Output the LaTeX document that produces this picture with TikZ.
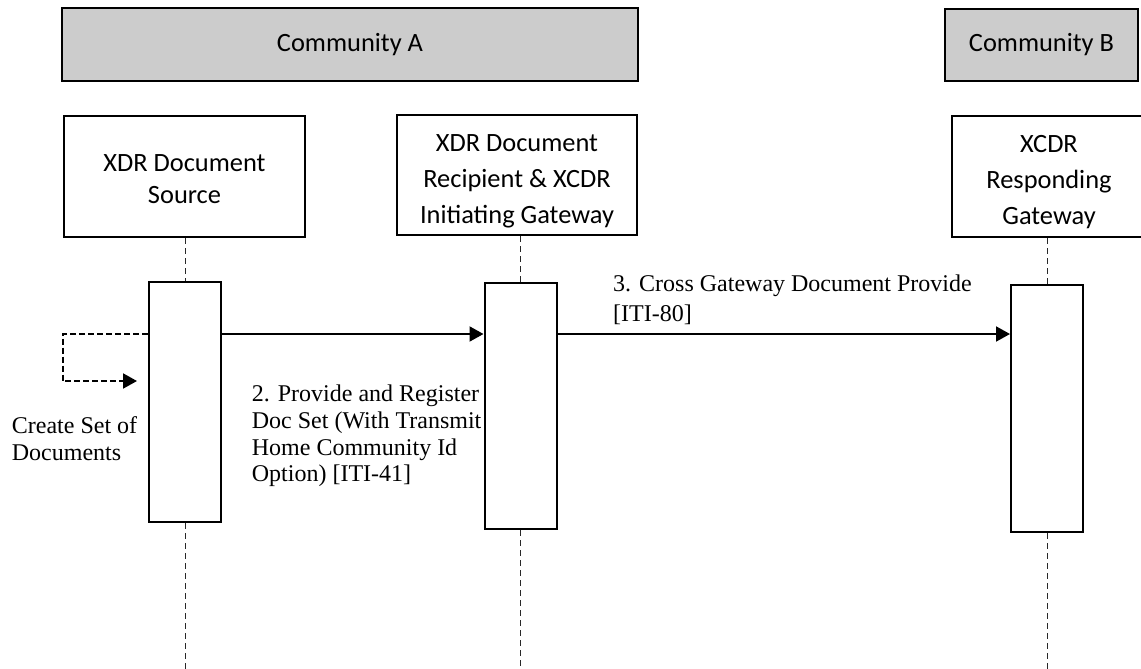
\documentclass[tikz,border=0pt]{standalone}
\usepackage{fontspec}
\setmainfont{Liberation Serif}
\newfontfamily\calibrifont{Carlito}
\usetikzlibrary{arrows.meta}
\definecolor{commfill}{RGB}{204,204,204}
\definecolor{lifegray}{RGB}{40,40,40}
\begin{document}
\begin{tikzpicture}[x=1pt,y=-1pt,
 comm/.style={draw=black,line width=2pt,fill=commfill,inner sep=0pt,font=\calibrifont\fontsize{26.4}{32}\selectfont},
 actor/.style={draw=black,line width=2pt,fill=white,inner sep=0pt},
 actortext/.style={inner sep=0pt,align=center,font=\calibrifont\fontsize{26.4}{#1}\selectfont},
 act/.style={draw=black,line width=2pt,fill=white,inner sep=0pt,minimum width=72pt},
 life/.style={draw=lifegray,line width=1pt,dash pattern=on 6pt off 4pt},
 msg/.style={draw=black,line width=2pt,-{Triangle[length=14pt,width=15pt]}},
 selfmsg/.style={msg,dash pattern=on 6pt off 3pt},
 lbl/.style={inner sep=0pt,anchor=base west,align=left}]
\useasboundingbox (0,0) rectangle (1141,669);
\clip (0,0) rectangle (1141,669);
\fill[white] (0,0) rectangle (1141,669);

\coordinate (m) at (0,334);
\coordinate (loopbl) at (62.7,381);
\coordinate (looptip) at (137,381);
\coordinate (bot) at (0,669);

% community headers
\node[comm,minimum width=576pt,minimum height=73pt] (commA) at (350,44.5) {Community A};
\node[comm,minimum width=193pt,minimum height=72pt] (commB) at (1041.5,45) {Community B};

% participants
\node[actor,minimum width=241pt,minimum height=121pt] (src) at (184.5,176.5) {};
\node[actortext=32] (srct) at ([yshift=-2.5pt]src.center) {XDR Document\\Source};
\node[actor,minimum width=240pt,minimum height=120pt] (rec) at (517,175) {};
\node[actortext=36] (rect) at ([yshift=-6pt]rec.center) {XDR Document\\Recipient \& XCDR\\Initiating Gateway};
\node[actor,minimum width=194pt,minimum height=121pt] (resp) at (1049,176.5) {};
\node[actortext=36] (respt) at ([yshift=-6pt]resp.center) {XCDR\\Responding\\Gateway};

% labels (drawn before the activation boxes, which cover any overflow)
\node[lbl,font=\fontsize{24}{27}\selectfont] (l1) at (11.7,460) {Create Set of\\Documents};
\node[lbl,font=\fontsize{24}{26.7}\selectfont] (l2) at (251.7,481.8) {2. Provide and Register\\Doc Set (With Transmit\\Home Community Id\\Option) [ITI-41]};
\node[lbl,font=\fontsize{24}{30}\selectfont] (l3) at (613,321.7) {3. Cross Gateway Document Provide\\{[ITI-80]}};

% activation boxes
\node[act,minimum height=240pt] (srcact) at (185,402) {};
\node[act,minimum height=246pt] (recact) at (520.5,406) {};
\node[act,minimum height=247pt] (respact) at (1047,408.5) {};

% lifelines
\draw[life] (srcact.north |- src.south) -- (srcact.north);
\draw[life] (srcact.south) -- (srcact.south |- bot);
\draw[life] (recact.north |- rec.south) -- (recact.north);
\draw[life] (recact.south) -- (recact.south |- bot);
\draw[life] (respact.north |- resp.south) -- (respact.north);
\draw[life] (respact.south) -- (respact.south |- bot);

% messages
\draw[selfmsg] (srcact.west |- m) -| (loopbl) -- (looptip);
\draw[msg] (srcact.east |- m) -- (recact.west |- m);
\draw[msg] (recact.east |- m) -- (respact.west |- m);
\end{tikzpicture}
\end{document}
